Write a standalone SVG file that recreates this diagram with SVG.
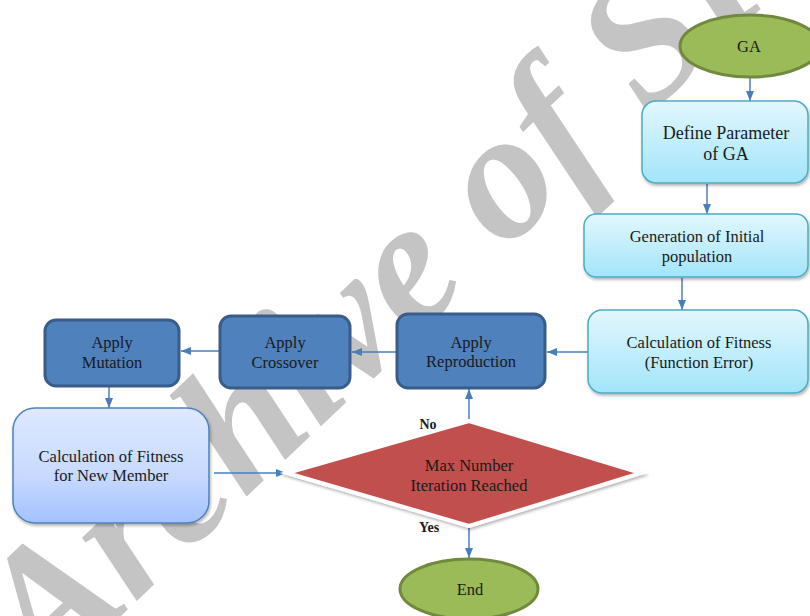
<svg xmlns="http://www.w3.org/2000/svg" width="810" height="616" viewBox="0 0 810 616">
  <defs>
    <style>
      .t { font-family: 'Liberation Serif', 'DejaVu Serif', serif; font-size: 16.5px; fill: #1a1a1a; text-anchor: middle; }
      .lbl { font-family: 'Liberation Serif', 'DejaVu Serif', serif; font-size: 14px; font-weight: bold; fill: #1a1a1a; text-anchor: middle; }
      .wm { font-family: 'Liberation Serif', 'DejaVu Serif', serif; font-style: italic; font-weight: bold; font-size: 182px; fill: #c4c4c4; }
      .cyan { fill: url(#gCyan); stroke: #4bacc6; stroke-width: 1.5; filter: url(#sh); }
      .dark { fill: #4f81bd; stroke: #385d8a; stroke-width: 3; }
      .lblue { fill: url(#gBlue); stroke: #4f81bd; stroke-width: 1.5; filter: url(#sh); }
      .oval { fill: #9bbb59; stroke: #71893f; stroke-width: 3; }
      .dia { fill: #c0504d; stroke: #ffffff; stroke-width: 4; stroke-linejoin: miter; filter: url(#sh); }
      .c { fill: none; stroke: #4a7ebb; stroke-width: 1.5; marker-end: url(#arr); }
    </style>
    <linearGradient id="gCyan" x1="0" y1="0" x2="0" y2="1">
      <stop offset="0" stop-color="#e2f7fe"/>
      <stop offset="1" stop-color="#a2e5fa"/>
    </linearGradient>
    <linearGradient id="gBlue" x1="0" y1="0" x2="0" y2="1">
      <stop offset="0" stop-color="#dfe9ff"/>
      <stop offset="0.6" stop-color="#c6d9ff"/>
      <stop offset="1" stop-color="#a3c2ff"/>
    </linearGradient>
    <filter id="sh" x="-10%" y="-10%" width="120%" height="130%">
      <feDropShadow dx="1" dy="2" stdDeviation="1.5" flood-color="#000" flood-opacity="0.3"/>
    </filter>
    <marker id="arr" markerWidth="10" markerHeight="8" refX="10" refY="4" orient="auto" markerUnits="userSpaceOnUse">
      <path d="M0,0 L10,4 L0,8 Z" fill="#4a7ebb"/>
    </marker>
  </defs>

  <rect width="810" height="616" fill="#ffffff"/>

  <text class="wm" transform="translate(46,687) rotate(-43.5)">Archive of SID</text>

  <g id="connectors">
    <line class="c" x1="750" y1="77" x2="750" y2="101"/>
    <line class="c" x1="707" y1="184" x2="707" y2="214"/>
    <line class="c" x1="682" y1="278" x2="682" y2="310"/>
    <line class="c" x1="588" y1="352" x2="547" y2="352"/>
    <line class="c" x1="396" y1="352" x2="352" y2="352"/>
    <line class="c" x1="219" y1="351" x2="181" y2="351"/>
    <line class="c" x1="109" y1="387" x2="109" y2="408"/>
    <line class="c" x1="214" y1="473" x2="286" y2="473"/>
    <line class="c" x1="469" y1="421" x2="469" y2="389"/>
    <line class="c" x1="469" y1="527" x2="469" y2="558"/>
  </g>

  <g id="lbl-no"><text class="lbl" x="428" y="429">No</text></g>
  <g id="lbl-yes"><text class="lbl" x="429" y="532">Yes</text></g>

  <g id="ga">
    <ellipse class="oval" cx="750" cy="46" rx="70" ry="31"/>
    <text class="t" x="749" y="52">GA</text>
  </g>

  <g id="define">
    <rect class="cyan" x="642" y="101" width="166" height="82" rx="14"/>
    <text class="t" style="font-size:18px" x="726" y="139">Define Parameter</text>
    <text class="t" style="font-size:18px" x="726" y="160">of GA</text>
  </g>

  <g id="generation">
    <rect class="cyan" x="584" y="214" width="224" height="63" rx="12"/>
    <text class="t" x="697" y="242">Generation of Initial</text>
    <text class="t" x="697" y="262">population</text>
  </g>

  <g id="calcfit">
    <rect class="cyan" x="588" y="310" width="220" height="83" rx="14"/>
    <text class="t" x="699" y="348">Calculation of Fitness</text>
    <text class="t" x="699" y="368">(Function Error)</text>
  </g>

  <g id="reproduction">
    <rect class="dark" x="397" y="314" width="148" height="74" rx="11"/>
    <text class="t" x="471" y="348">Apply</text>
    <text class="t" x="471" y="367">Reproduction</text>
  </g>

  <g id="crossover">
    <rect class="dark" x="220" y="316" width="130" height="72" rx="11"/>
    <text class="t" x="285" y="348">Apply</text>
    <text class="t" x="285" y="368">Crossover</text>
  </g>

  <g id="mutation">
    <rect class="dark" x="45" y="320" width="134" height="66" rx="11"/>
    <text class="t" x="112" y="348">Apply</text>
    <text class="t" x="112" y="368">Mutation</text>
  </g>

  <g id="newmember">
    <rect class="lblue" x="13" y="408" width="196" height="115" rx="22"/>
    <text class="t" x="111" y="462">Calculation of Fitness</text>
    <text class="t" x="111" y="481">for New Member</text>
  </g>

  <g id="decision">
    <polygon class="dia" points="469,421 641,473 469,526 287,473"/>
    <text class="t" x="469" y="471">Max Number</text>
    <text class="t" x="469" y="491">Iteration Reached</text>
  </g>

  <g id="end">
    <ellipse class="oval" cx="469" cy="589" rx="69" ry="30"/>
    <text class="t" x="470" y="595">End</text>
  </g>
</svg>
